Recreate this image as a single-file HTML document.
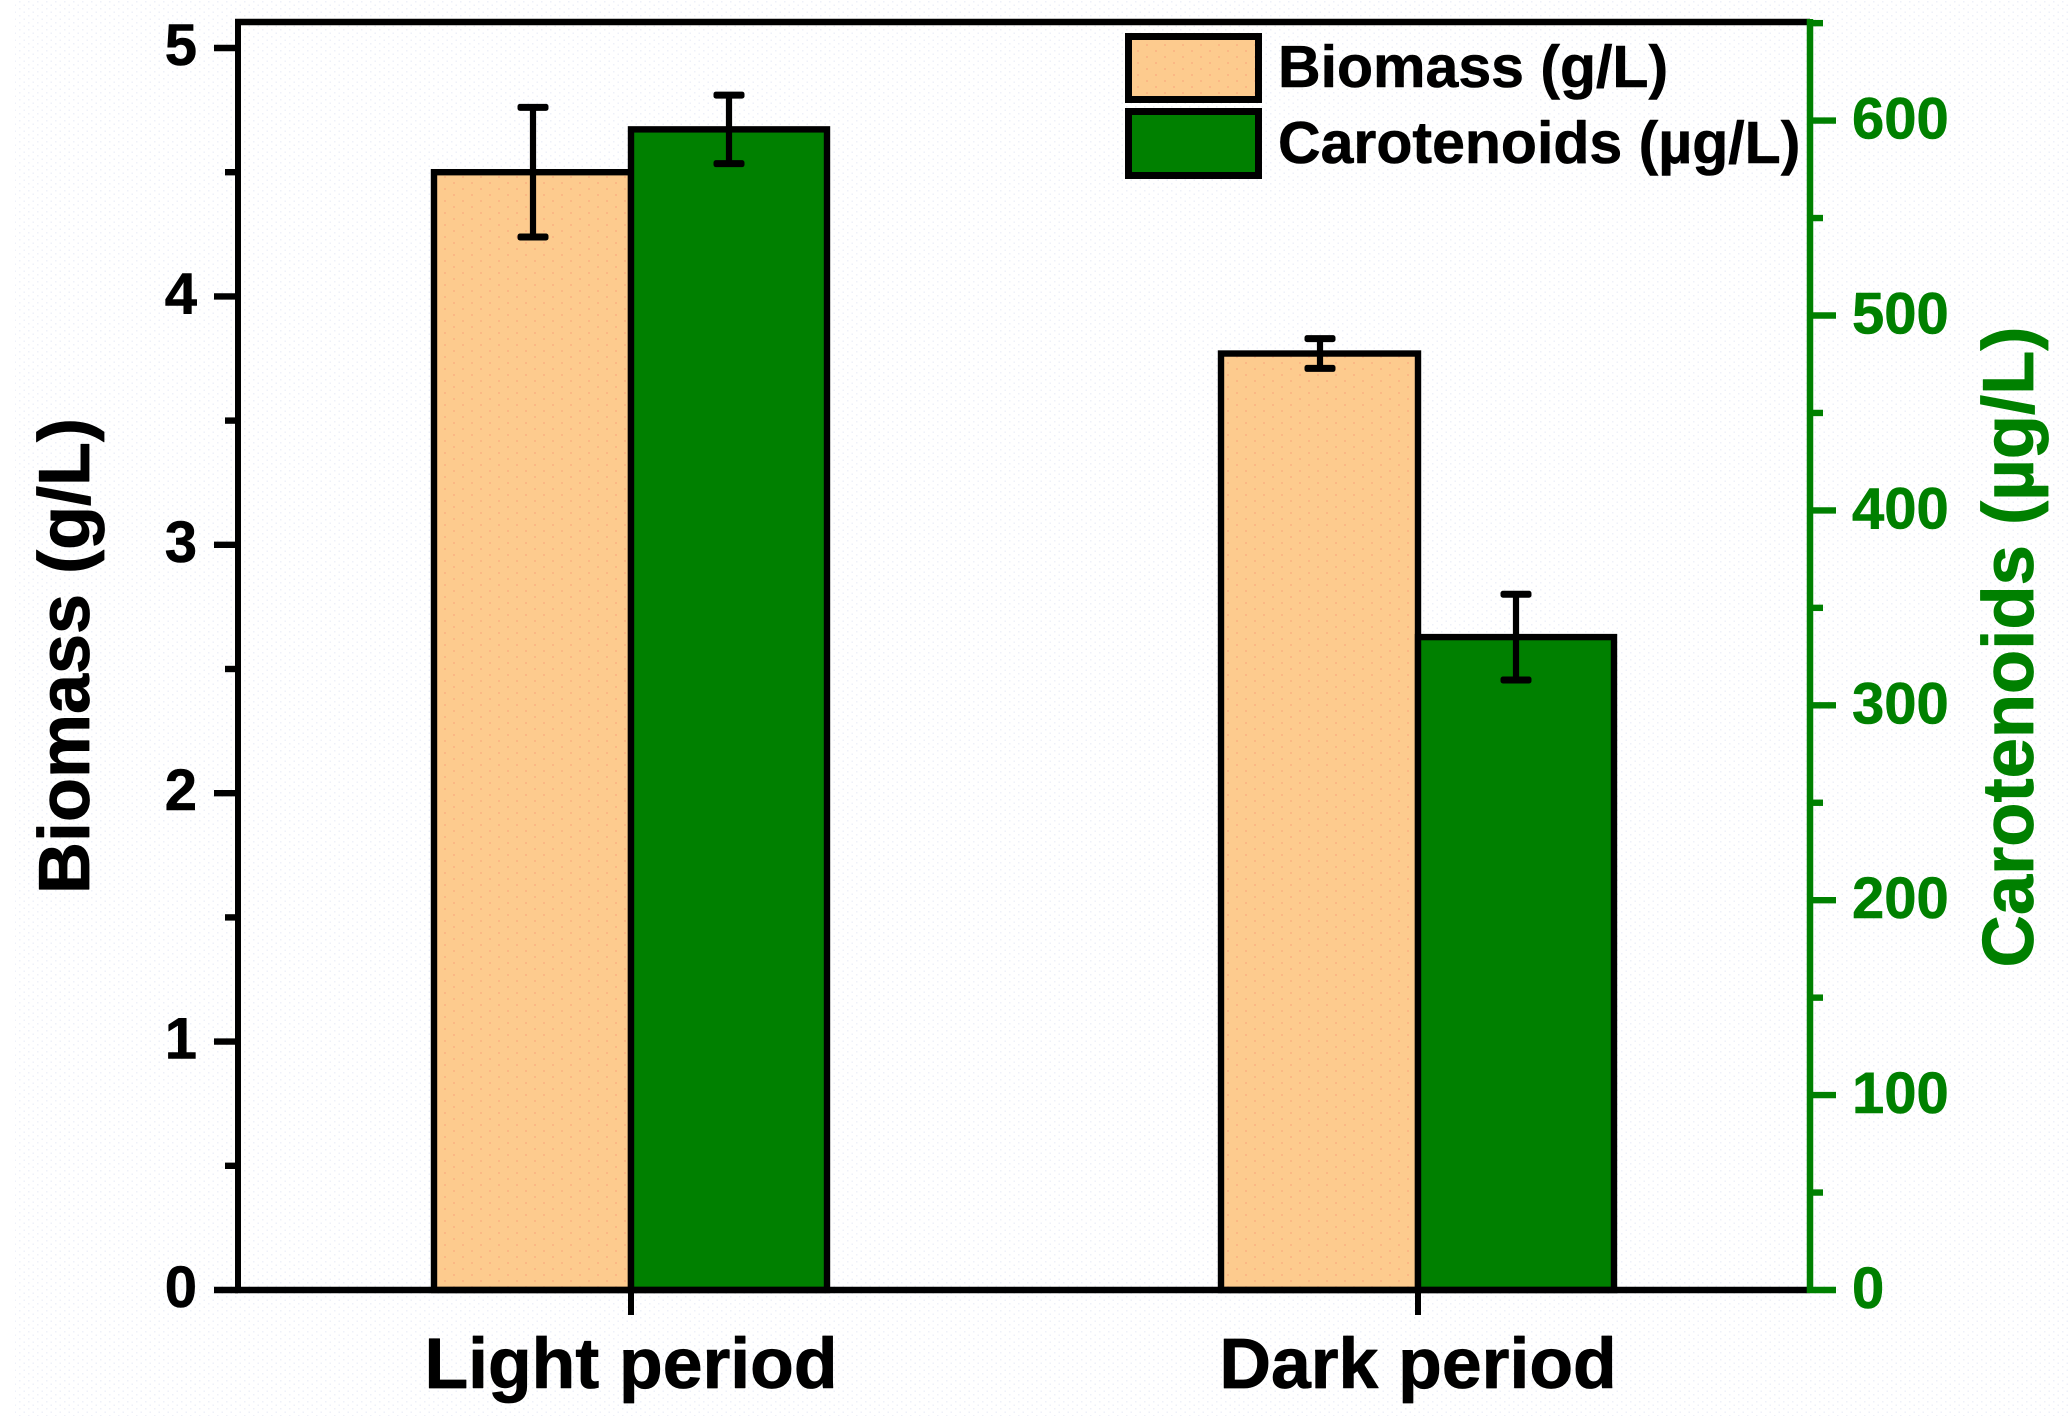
<!DOCTYPE html>
<html lang="en">
<head>
<meta charset="utf-8">
<title>Biomass and carotenoids in light and dark periods</title>
<style>
html,body{margin:0;padding:0;background:#fff;}
svg{display:block;font-family:"Liberation Sans",Arial,sans-serif;font-weight:700;}
text{stroke-linejoin:round;}
</style>
</head>
<body>
<svg id="chart" xmlns="http://www.w3.org/2000/svg" width="2069" height="1416" viewBox="0 0 2069 1416">
  <defs>
    <pattern id="speckle" width="9" height="7" patternUnits="userSpaceOnUse">
      <rect x="1" y="1" width="1.5" height="1.5" fill="#eef0f8"/>
      <rect x="5.5" y="4.5" width="1.5" height="1.5" fill="#eef0f8"/>
    </pattern>
    <pattern id="peach-dots" width="18" height="12" patternUnits="userSpaceOnUse">
      <rect width="18" height="12" fill="#fdcb8e"/>
      <circle cx="4" cy="3" r="0.9" fill="#fbab7e"/>
      <circle cx="13" cy="9" r="0.9" fill="#fbab7e"/>
    </pattern>
  </defs>
  <rect x="0" y="0" width="2069" height="1416" fill="#ffffff"/>
  <rect x="15" y="0" width="2054" height="1416" fill="url(#speckle)"/>
  <g id="bars"></g>
  <g id="error-bars"></g>
  <g id="axes"></g>
  <text transform="translate(89,656) rotate(-90)" text-anchor="middle" font-size="72" fill="#000000" stroke="#000000" stroke-width="0.8">Biomass (g/L)</text>
  <text transform="translate(2033,647) rotate(-90)" text-anchor="middle" font-size="72.4" fill="#008000" stroke="#008000" stroke-width="0.8">Carotenoids (µg/L)</text>
  <g>
    <g>
      <rect x="1128.5" y="36.5" width="130" height="63" fill="url(#peach-dots)" stroke="#000" stroke-width="7"/>
      <text x="1278" y="87" font-size="59" fill="#000" stroke="#000" stroke-width="0.6">Biomass (g/L)</text>
    </g>
    <g>
      <rect x="1128.5" y="111.5" width="130" height="64" fill="#008000" stroke="#000" stroke-width="7"/>
      <text x="1278" y="163" font-size="59" fill="#000" stroke="#000" stroke-width="0.6">Carotenoids (µg/L)</text>
    </g>
  </g>
</svg>
<script>
const categories = ["Light period", "Dark period"];
const biomassValues = [4.5, 3.77];
const biomassErrors = [0.261, 0.06];
const carotenoidValues = [595.5, 335];
const carotenoidErrors = [17.6, 22];
const leftMajorTicks = [0, 1, 2, 3, 4, 5];
const leftMinorTicks = [0.5, 1.5, 2.5, 3.5, 4.5];
const rightMajorTicks = [0, 100, 200, 300, 400, 500, 600];
const rightMinorTicks = [50, 150, 250, 350, 450, 550, 650];

const svgNS = "http://www.w3.org/2000/svg";
const plotLeft = 238, plotRight = 1810, plotTop = 22, plotBottom = 1290;
const barWidth = 197, capHalf = 15.5;
const GREEN = "#008000", BLACK = "#000000";

function yLeft(v) { return plotBottom - v * 248.4; }
function yRight(v) { return plotBottom - v * 1.949; }
function xCenter(i) { return 631 + i * 787; }

function make(parent, tag, attrs, text) {
  const el = document.createElementNS(svgNS, tag);
  for (const k in attrs) el.setAttribute(k, attrs[k]);
  if (text !== undefined) el.textContent = text;
  parent.appendChild(el);
  return el;
}
function line(parent, x1, y1, x2, y2, color, w) {
  return make(parent, "line", { x1: x1, y1: y1, x2: x2, y2: y2, stroke: color, "stroke-width": w });
}

const barsG = document.getElementById("bars");
const errG = document.getElementById("error-bars");
const axesG = document.getElementById("axes");

function drawError(x, yTop, yBottom) {
  const g = make(errG, "g", {});
  
  
  line(g, x, yTop, x, yBottom, BLACK, 6.2);
  make(g, "rect", { x: x - capHalf, y: yTop - 3.5, width: capHalf * 2, height: 7, rx: 2.5, fill: BLACK });
  make(g, "rect", { x: x - capHalf, y: yBottom - 3.5, width: capHalf * 2, height: 7, rx: 2.5, fill: BLACK });
}

categories.forEach(function (cat, i) {
  const cx = xCenter(i);
  const b = make(barsG, "rect", {
    x: cx - barWidth, y: yLeft(biomassValues[i]), width: barWidth,
    height: plotBottom - yLeft(biomassValues[i]),
    fill: "url(#peach-dots)", stroke: BLACK, "stroke-width": 6.4
  });
  
  
  const c = make(barsG, "rect", {
    x: cx, y: yRight(carotenoidValues[i]), width: barWidth - 1,
    height: plotBottom - yRight(carotenoidValues[i]),
    fill: GREEN, stroke: BLACK, "stroke-width": 6.4
  });
  
  
  const bx = cx - barWidth / 2 + 0.5;
  const gx = cx + barWidth / 2 - 0.5;
  drawError(bx, yLeft(biomassValues[i] + biomassErrors[i]), yLeft(biomassValues[i] - biomassErrors[i]));
  drawError(gx, yRight(carotenoidValues[i] + carotenoidErrors[i]), yRight(carotenoidValues[i] - carotenoidErrors[i]));
});

// axis frame
const topLine = line(axesG, plotLeft - 3, plotTop, plotRight, plotTop, BLACK, 6.4);


const bottomLine = line(axesG, plotLeft - 3, plotBottom, plotRight, plotBottom, BLACK, 6.4);


const leftLine = line(axesG, plotLeft, plotTop - 3, plotLeft, plotBottom + 3, BLACK, 6);


const rightLine = line(axesG, plotRight, plotTop - 3, plotRight, plotBottom + 3, GREEN, 6.5);



// left ticks
leftMajorTicks.forEach(function (v) {
  const t = line(axesG, plotLeft - 24, yLeft(v), plotLeft, yLeft(v), BLACK, 6.4);
  
  
  const l = make(axesG, "text", { x: 197, y: yLeft(v) + 17, "text-anchor": "end", "font-size": 58, fill: BLACK, stroke: BLACK, "stroke-width": 0.6 }, String(v));
  
  
});
leftMinorTicks.forEach(function (v) {
  const t = line(axesG, plotLeft - 13, yLeft(v), plotLeft, yLeft(v), BLACK, 6.4);
  
  
});

// right ticks
rightMajorTicks.forEach(function (v) {
  const t = line(axesG, plotRight, yRight(v), plotRight + 26, yRight(v), GREEN, 6.4);
  
  
  const l = make(axesG, "text", { x: 1852, y: yRight(v) + 18, "text-anchor": "start", "font-size": 58, fill: GREEN, stroke: GREEN, "stroke-width": 0.6 }, String(v));
  
  
});
rightMinorTicks.forEach(function (v) {
  const t = line(axesG, plotRight, yRight(v), plotRight + 13, yRight(v), GREEN, 6.4);
  
  
});

// x ticks and labels
categories.forEach(function (cat, i) {
  const t = line(axesG, xCenter(i), plotBottom, xCenter(i), plotBottom + 25, BLACK, 6);
  
  
  const l = make(axesG, "text", { x: xCenter(i), y: 1388, "text-anchor": "middle", "font-size": 71.5, fill: BLACK, stroke: BLACK, "stroke-width": 0.8 }, cat);
  
  
});
</script>
</body>
</html>
